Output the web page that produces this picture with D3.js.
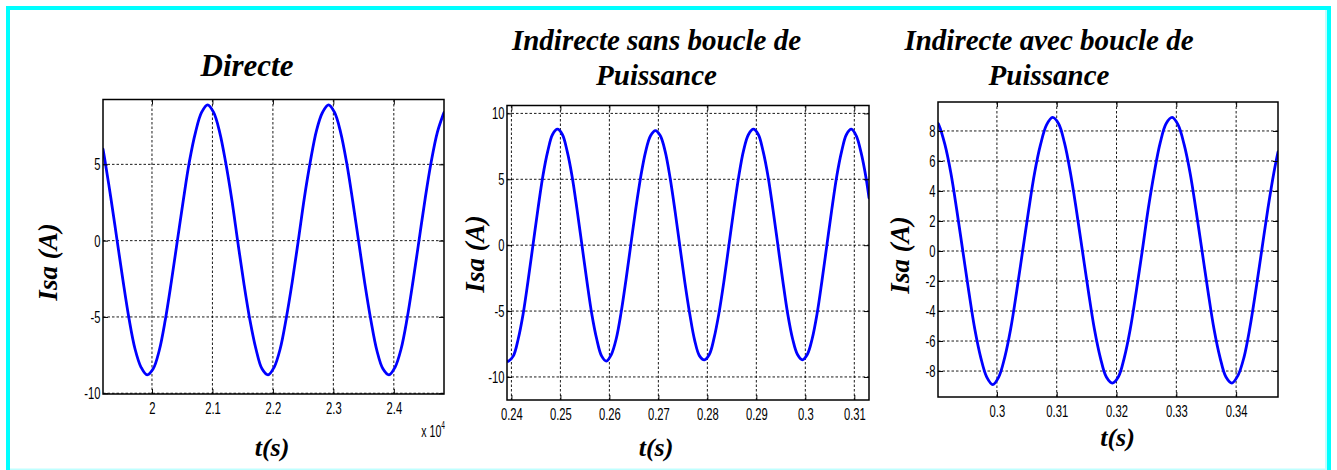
<!DOCTYPE html>
<html>
<head>
<meta charset="utf-8">
<script src="https://cdn.jsdelivr.net/npm/d3@7"></script>
<style>
  html, body { margin: 0; padding: 0; background: #ffffff; }
  svg { display: block; }
</style>
</head>
<body>
<svg id="chart" width="1337" height="470"></svg>
<script>
// ---- Stator current Isa for the three control strategies ----

// Directe (time axis in units of 1e4)
const tDirecte = [1.919, 1.922, 1.932, 1.942, 1.952, 1.962, 1.972, 1.982, 1.992, 2.002,
  2.012, 2.022, 2.032, 2.042, 2.052, 2.062, 2.072, 2.082, 2.092, 2.102,
  2.112, 2.122, 2.132, 2.142, 2.152, 2.162, 2.172, 2.182, 2.192, 2.202,
  2.212, 2.222, 2.232, 2.242, 2.252, 2.262, 2.272, 2.282, 2.292, 2.302,
  2.312, 2.322, 2.332, 2.342, 2.352, 2.362, 2.372, 2.382, 2.392, 2.402,
  2.412, 2.422, 2.432, 2.442, 2.452, 2.462, 2.472, 2.482, 2.483];
const iDirecte = [6.0, 5.3, 2.8, 0.1, -2.6, -5.1, -7.1, -8.3, -8.8, -8.4,
  -7.2, -5.2, -2.7, 0.0, 2.7, 5.2, 7.1, 8.4, 8.9, 8.4,
  7.1, 5.1, 2.7, -0.1, -2.8, -5.2, -7.1, -8.4, -8.8, -8.3,
  -7.1, -5.1, -2.7, 0.0, 2.8, 5.2, 7.2, 8.4, 8.9, 8.4,
  7.1, 5.1, 2.6, -0.1, -2.8, -5.2, -7.2, -8.4, -8.8, -8.3,
  -7.1, -5.1, -2.6, 0.1, 2.8, 5.2, 7.1, 8.3, 8.4];

// Indirecte sans boucle de puissance
const tSans = [0.2391, 0.2394, 0.2404, 0.2414, 0.2424, 0.2434, 0.2444, 0.2454, 0.2464, 0.2474,
  0.2484, 0.2494, 0.2504, 0.2514, 0.2524, 0.2534, 0.2544, 0.2554, 0.2564, 0.2574,
  0.2584, 0.2594, 0.2604, 0.2614, 0.2624, 0.2634, 0.2644, 0.2654, 0.2664, 0.2674,
  0.2684, 0.2694, 0.2704, 0.2714, 0.2724, 0.2734, 0.2744, 0.2754, 0.2764, 0.2774,
  0.2784, 0.2794, 0.2804, 0.2814, 0.2824, 0.2834, 0.2844, 0.2854, 0.2864, 0.2874,
  0.2884, 0.2894, 0.2904, 0.2914, 0.2924, 0.2934, 0.2944, 0.2954, 0.2964, 0.2974,
  0.2984, 0.2994, 0.3004, 0.3014, 0.3024, 0.3034, 0.3044, 0.3054, 0.3064, 0.3074,
  0.3084, 0.3094, 0.3104, 0.3114, 0.3124, 0.3130];
const iSans = [-8.8,
  -8.8, -8.4, -7.1, -5.2, -2.7, 0.0, 2.7, 5.2, 7.1, 8.4,
  8.8, 8.4, 7.1, 5.2, 2.7, 0.0, -2.7, -5.2, -7.1, -8.4,
  -8.8, -8.3, -7.1, -5.1, -2.6, 0.1, 2.8, 5.2, 7.1, 8.3,
  8.7, 8.3, 7.1, 5.1, 2.6, -0.1, -2.8, -5.2, -7.2, -8.4,
  -8.7, -8.3, -7.0, -5.1, -2.7, 0.0, 2.7, 5.2, 7.2, 8.4,
  8.8, 8.4, 7.1, 5.2, 2.7, 0.0, -2.7, -5.2, -7.1, -8.3,
  -8.7, -8.3, -7.1, -5.2, -2.7, 0.0, 2.7, 5.2, 7.1, 8.4,
  8.8, 8.3, 7.0, 5.1,
  3.6];

// Indirecte avec boucle de puissance
const tAvec = [0.29015, 0.2903, 0.2913, 0.2923, 0.2933, 0.2943, 0.2953, 0.2963, 0.2973, 0.2983,
  0.2993, 0.3003, 0.3013, 0.3023, 0.3033, 0.3043, 0.3053, 0.3063, 0.3073, 0.3083,
  0.3093, 0.3103, 0.3113, 0.3123, 0.3133, 0.3143, 0.3153, 0.3163, 0.3173, 0.3183,
  0.3193, 0.3203, 0.3213, 0.3223, 0.3233, 0.3243, 0.3253, 0.3263, 0.3273, 0.3283,
  0.3293, 0.3303, 0.3313, 0.3323, 0.3333, 0.3343, 0.3353, 0.3363, 0.3373, 0.3383,
  0.3393, 0.3403, 0.3413, 0.3423, 0.3433, 0.3443, 0.3453, 0.3463, 0.3470];
const iAvec = [8.5,
  8.4, 7.1, 5.2, 2.7, 0.0, -2.7, -5.2, -7.1, -8.4,
  -8.9, -8.4, -7.1, -5.2, -2.7, 0.0, 2.7, 5.2, 7.1, 8.4,
  8.9, 8.5, 7.2, 5.2, 2.7, 0.0, -2.7, -5.2, -7.1, -8.4,
  -8.8, -8.4, -7.1, -5.2, -2.7, 0.0, 2.8, 5.2, 7.2, 8.5,
  8.9, 8.4, 7.1, 5.2, 2.7, 0.0, -2.7, -5.2, -7.1, -8.4,
  -8.8, -8.3, -7.1, -5.1, -2.6, 0.1, 2.8, 5.2,
  6.6];

// axis limits and ticks
const xLimDirecte = [1.919, 2.483], yLimDirecte = [-10.05, 9.25];
const xLimSans = [0.2391, 0.3130], yLimSans = [-11.75, 10.6];
const xLimAvec = [0.29015, 0.3470], yLimAvec = [-9.73, 9.93];

const xTicksDirecte = [2, 2.1, 2.2, 2.3, 2.4];
const yTicksDirecte = [-10, -5, 0, 5];
const xTicksSans = [0.24, 0.25, 0.26, 0.27, 0.28, 0.29, 0.3, 0.31];
const yTicksSans = [-10, -5, 0, 5, 10];
const xTicksAvec = [0.3, 0.31, 0.32, 0.33, 0.34];
const yTicksAvec = [-8, -6, -4, -2, 0, 2, 4, 6, 8];

const titleDirecte = ["Directe"];
const titleSans = ["Indirecte sans boucle de", "Puissance"];
const titleAvec = ["Indirecte avec boucle de", "Puissance"];
const yLabel = "Isa (A)";
const xLabel = "t(s)";

// ---- layout ----
const svg = d3.select("#chart");
const SERIF = "'Liberation Serif', 'Times New Roman', serif";
const SANS = "'Liberation Sans', Arial, sans-serif";
const SQUEEZE = 0.66; // narrow tick lettering

// outer cyan frame
svg.append("rect").attr("x", 0).attr("y", 0).attr("width", 1337).attr("height", 470).attr("fill", "#ffffff");
svg.append("rect").attr("x", 6).attr("y", 6).attr("width", 1325).attr("height", 4).attr("fill", "#00ffff");
svg.append("rect").attr("x", 6).attr("y", 6).attr("width", 4).attr("height", 464).attr("fill", "#00ffff");
svg.append("rect").attr("x", 1327).attr("y", 6).attr("width", 4).attr("height", 464).attr("fill", "#00ffff");
svg.append("rect").attr("x", 1325).attr("y", 10).attr("width", 2).attr("height", 460).attr("fill", "#bfffff");
svg.append("rect").attr("x", 10).attr("y", 468.5).attr("width", 1317).attr("height", 1.5).attr("fill", "#bfffff");

const panels = [
  {
    t: tDirecte, v: iDirecte, xLim: xLimDirecte, yLim: yLimDirecte,
    xTicks: xTicksDirecte, yTicks: yTicksDirecte, title: titleDirecte,
    box: { l: 103, r: 444, t: 99.5, b: 394 },
    titleX: 247, titleY: [76], titleSize: 31,
    yLabX: 57, yLabY: 262, xLabX: 272, xLabY: 456,
    exponent: true
  },
  {
    t: tSans, v: iSans, xLim: xLimSans, yLim: yLimSans,
    xTicks: xTicksSans, yTicks: yTicksSans, title: titleSans,
    box: { l: 507, r: 869, t: 105.5, b: 400 },
    titleX: 656.5, titleY: [50, 85], titleSize: 29,
    yLabX: 484, yLabY: 254, xLabX: 656, xLabY: 456,
    exponent: false
  },
  {
    t: tAvec, v: iAvec, xLim: xLimAvec, yLim: yLimAvec,
    xTicks: xTicksAvec, yTicks: yTicksAvec, title: titleAvec,
    box: { l: 938, r: 1278, t: 102, b: 397 },
    titleX: 1049, titleY: [50, 85], titleSize: 29,
    yLabX: 909, yLabY: 255, xLabX: 1117.5, xLabY: 446,
    exponent: false
  }
];

panels.forEach((p, idx) => {
  const b = p.box;
  const x = d3.scaleLinear().domain(p.xLim).range([b.l, b.r]);
  const y = d3.scaleLinear().domain(p.yLim).range([b.b, b.t]);
  const g = svg.append("g");

  // plot background
  g.append("rect").attr("x", b.l).attr("y", b.t)
    .attr("width", b.r - b.l).attr("height", b.b - b.t).attr("fill", "#ffffff");

  // dotted grid
  const grid = g.append("g").attr("stroke", "#000").attr("stroke-width", 0.9)
    .attr("stroke-dasharray", "2.5,2");
  grid.selectAll(".gx").data(p.xTicks).join("line")
    .attr("x1", d => x(d)).attr("x2", d => x(d)).attr("y1", b.t).attr("y2", b.b);
  grid.selectAll(".gy").data(p.yTicks).join("line")
    .attr("x1", b.l).attr("x2", b.r).attr("y1", d => y(d)).attr("y2", d => y(d));

  // current trace
  const clipId = "clip" + idx;
  g.append("clipPath").attr("id", clipId).append("rect")
    .attr("x", b.l).attr("y", b.t).attr("width", b.r - b.l).attr("height", b.b - b.t);
  const pts = p.t.map((t, i) => [t, p.v[i]]);
  g.append("path").datum(pts)
    .attr("clip-path", `url(#${clipId})`)
    .attr("fill", "none").attr("stroke", "#0000ff").attr("stroke-width", 2.8)
    .attr("stroke-linejoin", "round").attr("stroke-linecap", "round")
    .attr("d", d3.line().x(d => x(d[0])).y(d => y(d[1])).curve(d3.curveCatmullRom.alpha(0.5)));

  // axes with inward ticks
  const ax = (sel) => sel.call(s => s.select(".domain").remove())
    .call(s => s.selectAll(".tick line").attr("stroke", "#000").attr("stroke-width", 1));

  const bottom = g.append("g").attr("transform", `translate(0,${b.b})`)
    .call(d3.axisBottom(x).tickValues(p.xTicks).tickFormat(d => String(d))
      .tickSizeInner(-5).tickSizeOuter(0).tickPadding(7.5));
  ax(bottom);
  bottom.selectAll(".tick text")
    .attr("font-family", SANS).attr("font-size", 17).attr("fill", "#000")
    .attr("transform", `scale(${SQUEEZE},1)`);

  const left = g.append("g").attr("transform", `translate(${b.l},0)`)
    .call(d3.axisLeft(y).tickValues(p.yTicks).tickFormat(d => String(d))
      .tickSizeInner(-5).tickSizeOuter(0).tickPadding(2.5 / SQUEEZE));
  ax(left);
  left.selectAll(".tick text")
    .attr("font-family", SANS).attr("font-size", 17).attr("fill", "#000")
    .attr("transform", `scale(${SQUEEZE},1)`);

  const top = g.append("g").attr("transform", `translate(0,${b.t})`)
    .call(d3.axisTop(x).tickValues(p.xTicks).tickFormat("").tickSizeInner(-5).tickSizeOuter(0));
  ax(top);
  const right = g.append("g").attr("transform", `translate(${b.r},0)`)
    .call(d3.axisRight(y).tickValues(p.yTicks).tickFormat("").tickSizeInner(-5).tickSizeOuter(0));
  ax(right);

  // frame
  g.append("rect").attr("x", b.l).attr("y", b.t)
    .attr("width", b.r - b.l).attr("height", b.b - b.t)
    .attr("fill", "none").attr("stroke", "#000").attr("stroke-width", 1.5);

  // exponent of the time axis
  if (p.exponent) {
    const e = g.append("text")
      .attr("transform", `translate(${b.r + 1},437) scale(${SQUEEZE},1)`)
      .attr("text-anchor", "end").attr("font-family", SANS).attr("font-size", 16).attr("fill", "#000");
    e.append("tspan").text("x 10");
    e.append("tspan").attr("font-size", 10).attr("dy", -8).text("4");
  }

  // title
  const title = g.append("text").attr("text-anchor", "middle")
    .attr("font-family", SERIF).attr("font-weight", "bold").attr("font-style", "italic")
    .attr("font-size", p.titleSize).attr("fill", "#000");
  p.title.forEach((line, i) => {
    title.append("tspan").attr("x", p.titleX).attr("y", p.titleY[i]).text(line);
  });

  // axis titles
  g.append("text")
    .attr("transform", `translate(${p.yLabX},${p.yLabY}) rotate(-90)`)
    .attr("text-anchor", "middle").attr("font-family", SERIF)
    .attr("font-weight", "bold").attr("font-style", "italic").attr("font-size", 27)
    .attr("fill", "#000").text(yLabel);
  g.append("text")
    .attr("x", p.xLabX).attr("y", p.xLabY)
    .attr("text-anchor", "middle").attr("font-family", SERIF)
    .attr("font-weight", "bold").attr("font-style", "italic").attr("font-size", 26)
    .attr("fill", "#000").text(xLabel);
});
</script>
</body>
</html>
